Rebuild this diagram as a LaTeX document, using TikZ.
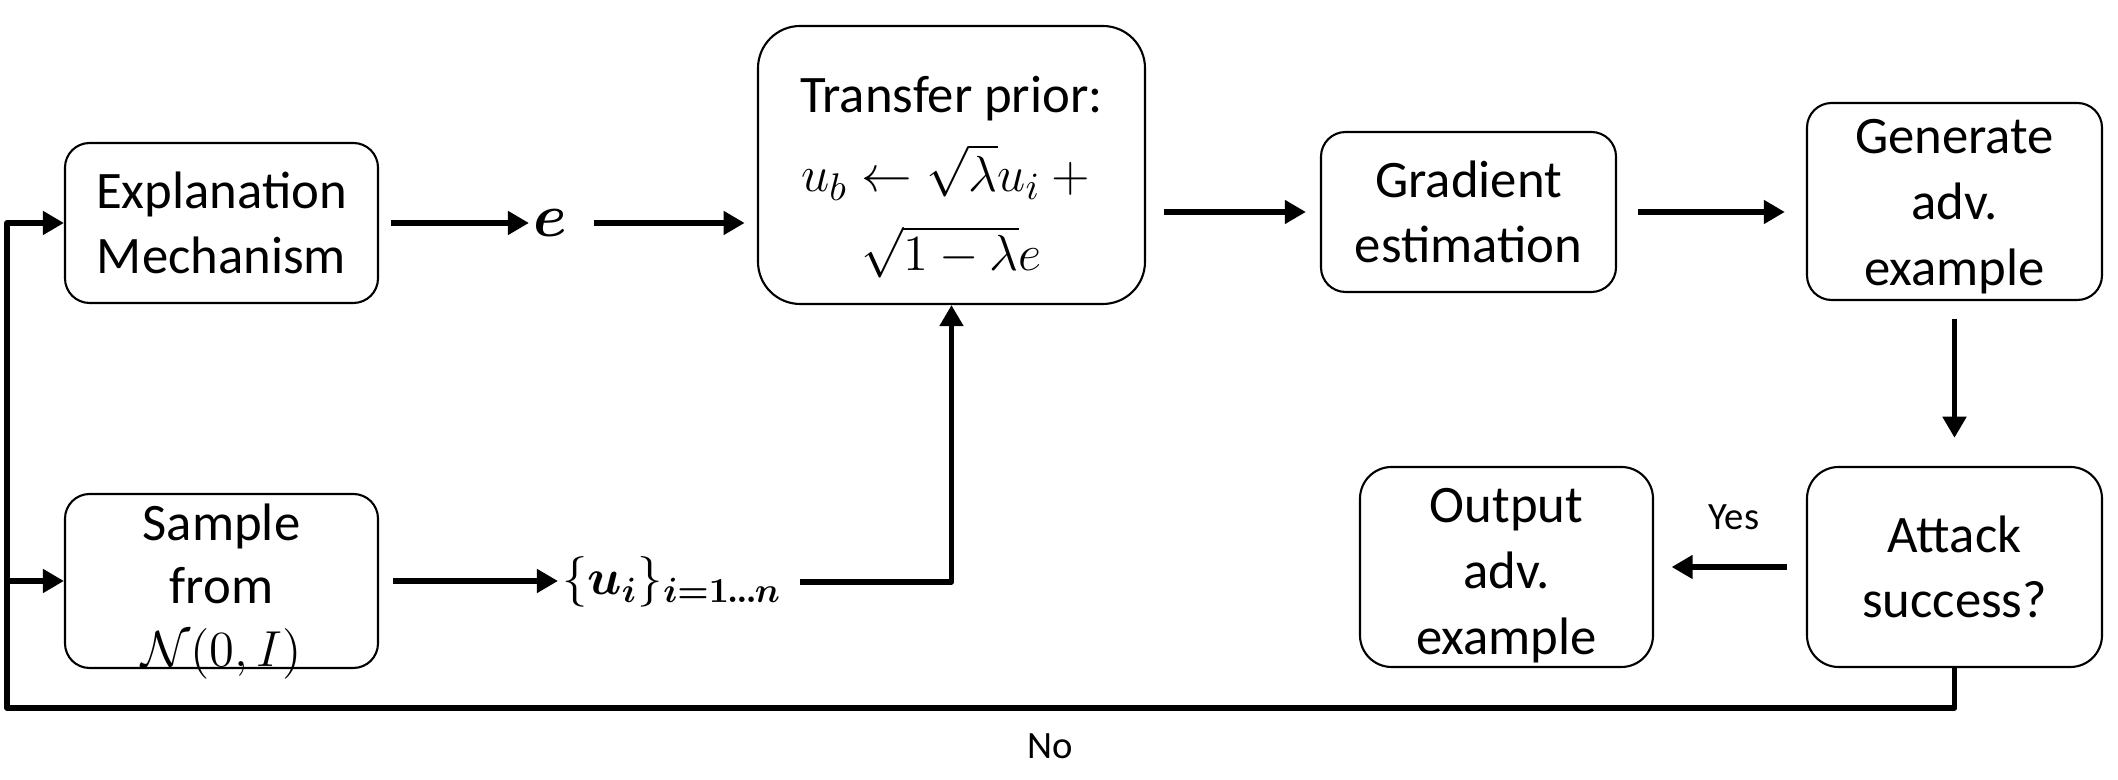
\documentclass[tikz,border=0pt]{standalone}
\usepackage{amsmath,amssymb}
\usepackage{fontspec}
\setmainfont{Carlito}
\usetikzlibrary{arrows.meta}

\begin{document}
\begin{tikzpicture}[line join=round,
  box/.style={draw, line width=0.6pt, rounded corners=7pt, align=center, inner sep=2pt, font=\fontsize{15}{18.5}\selectfont},
  flow/.style={line width=1.6pt, -{Triangle[length=6pt,width=6.5pt]}},
  lbl/.style={inner sep=1pt}]
\useasboundingbox (0,0) rectangle (21.18,7.80);

\node[box, minimum width=3.13cm, minimum height=1.60cm] (expl) at (2.215,5.57) {Explanation\\Mechanism};
\node[box, minimum width=3.87cm, minimum height=2.78cm, rounded corners=12pt, label={[align=center, font=\fontsize{15}{22.5}\selectfont, yshift=-3.5pt]center:Transfer prior:\\$u_b \leftarrow \sqrt{\lambda}u_i + {}$\\$\sqrt{1-\lambda}e$}] (prior) at (9.515,6.15) {};
\node[box, minimum width=2.95cm, minimum height=1.60cm] (grad) at (14.685,5.68) {Gradient\\estimation};
\node[box, minimum width=2.95cm, minimum height=1.97cm, label={[align=center, font=\fontsize{15}{18.8}\selectfont, yshift=-1.5pt]center:Generate\\adv.\\example}] (gen) at (19.545,5.785) {};
\node[box, minimum width=2.95cm, minimum height=2.00cm, rounded corners=9pt] (att) at (19.545,2.13) {Attack\\success?};
\node[box, minimum width=2.93cm, minimum height=2.00cm, rounded corners=9pt, label={[align=center, font=\fontsize{15}{18.8}\selectfont, yshift=-2.5pt]center:Output\\adv.\\example}] (out) at (15.065,2.13) {};
\node[box, minimum width=3.13cm, minimum height=1.74cm, label={[align=center, font=\fontsize{15}{18}\selectfont, yshift=-3pt]center:Sample\\from\\$\mathcal{N}(0,I)$}] (smp) at (2.215,1.99) {};

\node[lbl, font=\fontsize{16}{16}\selectfont] (e) at (5.50,5.57) {$\boldsymbol{e}$};
\node[lbl, font=\fontsize{14.4}{15}\selectfont] (u) at (6.72,1.98) {$\{\boldsymbol{u_i}\}_{\boldsymbol{i=1}\mkern-1mu\boldsymbol{.}\mkern-1mu\boldsymbol{.}\mkern-1mu\boldsymbol{.}\mkern-1mu\boldsymbol{n}}$};
\node[font=\fontsize{11}{11}\selectfont] (yes) at (17.34,2.63) {Yes};
\node[font=\fontsize{11}{11}\selectfont] (no) at (10.50,0.34) {No};
\coordinate (loop) at (0.07,0.72);

\draw[flow, shorten <=3.5pt] (expl) -- (e);
\draw[flow, shorten <=6.5pt, shorten >=3.5pt] (e) -- (e -| prior.west);
\draw[flow, shorten <=5pt, shorten >=4pt] (prior.east |- grad) -- (grad.west);
\draw[flow, shorten <=6pt, shorten >=6pt] (grad) -- (grad -| gen.west);
\draw[flow, shorten <=5pt, shorten >=8pt] (gen) -- (att);
\draw[flow, shorten <=5.5pt, shorten >=5pt] (att) -- (out);
\draw[flow, shorten <=4pt] (smp) -- (smp -| u.west);
\draw[flow, shorten <=4pt] (u.east) -| (prior.south);
\draw[flow] (att.south) |- (loop) |- (expl.west);
\draw[flow] (loop |- smp) -- (smp.west);
\end{tikzpicture}
\end{document}
